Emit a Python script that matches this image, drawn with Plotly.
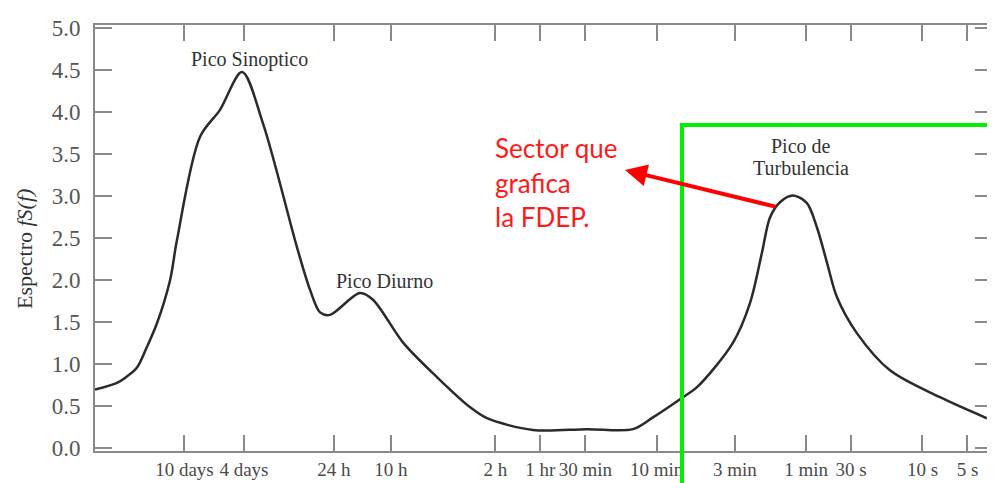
import plotly.graph_objects as go

# curve: period (s) and spectrum value
period_s = [3.43e6, 2.44e6, 2.16e6, 1.80e6, 1.54e6, 1.32e6, 1.08e6, 9.7e5, 6.8e5, 5.0e5, 3.56e5,
            2.58e5, 1.53e5, 1.25e5, 1.07e5, 9.19e4, 5.79e4, 4.74e4, 2.98e4, 1.77e4, 1.06e4,
            8.18e3, 4.03e3, 1.75e3, 864, 635, 400, 322, 185, 142.5, 118.5,
            104.7, 89.8, 73.5, 59.3, 50.8, 43.5, 37.3, 27.4, 16.5, 7.64, 3.71]
spectrum = [0.69, 0.77, 0.83, 0.95, 1.20, 1.48, 1.99, 2.47, 3.70, 4.02, 4.47,
            3.86, 2.39, 1.88, 1.61, 1.58, 1.84, 1.76, 1.25, 0.84, 0.48,
            0.35, 0.21, 0.22, 0.22, 0.36, 0.60, 0.72, 1.25, 1.72, 2.32,
            2.74, 2.92, 3.00, 2.91, 2.62, 2.20, 1.79, 1.36, 0.92, 0.60, 0.35]

# x tick labels and their periods in seconds
tick_labels = ['10 days', '4 days', '24 h', '10 h', '2 h', '1 hr', '30 min', '10 min',
               '3 min', '1 min', '30 s', '10 s', '5 s']
tick_periods = [864000, 345600, 86400, 36000, 7200, 3600, 1800, 600, 180, 60, 30, 10, 5]

y_ticks = [0.0, 0.5, 1.0, 1.5, 2.0, 2.5, 3.0, 3.5, 4.0, 4.5, 5.0]

freq = [1.0 / p for p in period_s]  # frequency axis (log)
tick_freq = [1.0 / p for p in tick_periods]

fig = go.Figure()
fig.add_trace(go.Scatter(x=freq, y=spectrum, mode='lines',
                         line=dict(color='#2a2a2a', width=2.5, shape='spline', smoothing=0.9),
                         hoverinfo='skip', showlegend=False))

serif = 'Liberation Serif'
axis_common = dict(showline=True, linecolor='#8a8a8a', linewidth=2, mirror='allticks',
                   ticks='inside', tickcolor='#8a8a8a', tickwidth=1.5, showgrid=False,
                   zeroline=False, automargin=False)

fig.update_xaxes(type='log', range=[-6.535, -0.535], tickvals=tick_freq, ticktext=tick_labels,
                 ticklen=16, tickangle=0, tickfont=dict(family=serif, size=19, color='#4a4a4a'),
                 **axis_common)
fig.update_yaxes(range=[-0.04, 5.03], tickvals=y_ticks, ticktext=[f'{v:.1f}' for v in y_ticks],
                 ticklen=17, ticklabelstandoff=8, tickfont=dict(family=serif, size=23, color='#555555'),
                 **axis_common)

# the page body has an 8px margin, positions below are in window pixels
def px_x(x):
    return (x - 95) / 897

def px_y(y):
    return (451 - y) / 426

# y axis title
fig.add_annotation(x=px_x(24), y=px_y(249), xref='paper', yref='paper', text='Espectro <i>fS(f)</i>',
                   textangle=-90, showarrow=False, xanchor='center', yanchor='middle',
                   font=dict(family=serif, size=22, color='#333333'))

# peak labels
for txt, x, y in [('Pico Sinoptico', 249, 60), ('Pico Diurno', 384, 281),
                  ('Pico de', 801, 146), ('Turbulencia', 801, 168)]:
    fig.add_annotation(x=px_x(x), y=px_y(y), xref='paper', yref='paper',
                       text=txt, showarrow=False, xanchor='center', yanchor='middle',
                       font=dict(family=serif, size=20, color='#333333'))

# red note
for txt, y in [('Sector que', 148), ('grafica', 183), ('la FDEP.', 217)]:
    fig.add_annotation(x=px_x(493), y=px_y(y), xref='paper', yref='paper',
                       text=txt, showarrow=False, xanchor='left', yanchor='middle',
                       font=dict(family='Lato', size=26, color='#ff1a1a'))

# red arrow
fig.add_annotation(x=px_x(625), y=px_y(170), xref='paper', yref='paper',
                   ax=152, ay=37, text='', showarrow=True, arrowhead=2, arrowsize=1.1,
                   arrowwidth=4, arrowcolor='#ff0000')

# green sector box
fig.add_shape(type='line', xref='paper', yref='paper', x0=px_x(682), x1=px_x(682),
              y0=px_y(123), y1=px_y(490), line=dict(color='#00f000', width=4))
fig.add_shape(type='line', xref='paper', yref='paper', x0=px_x(682), x1=px_x(1000),
              y0=px_y(125), y1=px_y(125), line=dict(color='#00f000', width=4))

fig.update_layout(width=987, height=475, margin=dict(l=87, r=3, t=17, b=32),
                  plot_bgcolor='white', paper_bgcolor='white')

fig.write_html('out.html')
